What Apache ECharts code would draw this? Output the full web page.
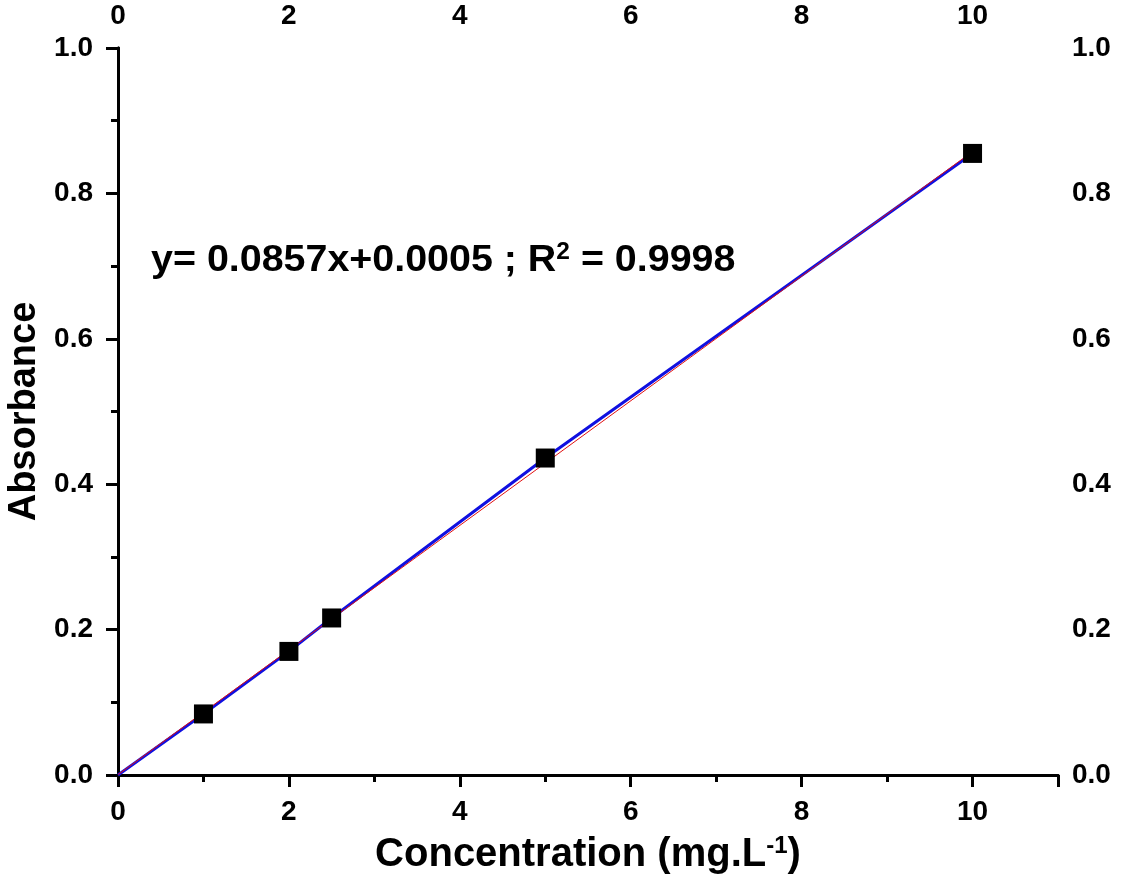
<!DOCTYPE html>
<html>
<head>
<meta charset="utf-8">
<script src="https://cdn.jsdelivr.net/npm/echarts@6/dist/echarts.min.js"></script>
<style>
  html, body { margin: 0; padding: 0; background: #fff; }
  #chart-container { width: 1123px; height: 881px; }
</style>
</head>
<body>
<div id="chart-container"></div>
<script>
  // measured standards
  var concentration = [0, 1, 2, 2.5, 5, 10];
  var absorbance = [0, 0.084, 0.170, 0.216, 0.436, 0.855];

  // linear fit y = 0.0857x + 0.0005, drawn between its end points
  var fitX = [0, 10];
  var fitY = [0.0005, 0.8575];

  var equationText = 'y= 0.0857x+0.0005 ; R';
  var r2Text = ' = 0.9998';

  var font = 'Liberation Sans';

  var dom = document.getElementById('chart-container');
  var myChart = echarts.init(dom, null, { renderer: 'canvas' });

  var axisLine = { show: true, lineStyle: { color: '#000', width: 3 } };
  var tickFont = { fontSize: 28, fontWeight: 'bold', fontFamily: font, color: '#000' };

  var option = {
    backgroundColor: '#fff',
    animation: false,
    grid: { left: 118, right: 65, top: 48, bottom: 106, containLabel: false, outerBoundsMode: 'none' },
    xAxis: [
      {
        type: 'value', position: 'bottom', min: 0, max: 11, interval: 2,
        axisLine: axisLine,
        axisTick: { show: true, inside: false, length: 12, lineStyle: { width: 3, color: '#000' } },
        minorTick: { show: true, splitNumber: 2, length: 7, lineStyle: { width: 3, color: '#000' } },
        splitLine: { show: false },
        axisLabel: Object.assign({ margin: 23,
          formatter: function (v) { return v <= 10 ? String(v) : ''; } }, tickFont),
        name: '{t|Concentration (mg.L}{s|-1}{t|)}',
        nameLocation: 'middle',
        nameGap: 59,
        nameTextStyle: {
          rich: {
            t: { fontSize: 40, fontWeight: 'bold', fontFamily: font, color: '#000' },
            s: { fontSize: 24, fontWeight: 'bold', fontFamily: font, color: '#000', verticalAlign: 'top', padding: [0, 0, 17, 0] }
          }
        }
      },
      {
        type: 'value', position: 'top', min: 0, max: 11, interval: 2,
        axisLine: axisLine,
        axisTick: { show: true, inside: true, length: 12, lineStyle: { width: 3, color: '#000' } },
        minorTick: { show: true, splitNumber: 2, length: 7, lineStyle: { width: 3, color: '#000' } },
        splitLine: { show: false },
        axisLabel: Object.assign({ margin: 18,
          formatter: function (v) { return v <= 10 ? String(v) : ''; } }, tickFont)
      }
    ],
    yAxis: [
      {
        type: 'value', position: 'left', min: 0, max: 1, interval: 0.2,
        axisLine: axisLine,
        axisTick: { show: true, inside: false, length: 12, lineStyle: { width: 3, color: '#000' } },
        minorTick: { show: true, splitNumber: 2, length: 7, lineStyle: { width: 3, color: '#000' } },
        splitLine: { show: false },
        axisLabel: Object.assign({ margin: 25,
          formatter: function (v) { return v.toFixed(1); } }, tickFont),
        name: 'Absorbance',
        nameLocation: 'middle',
        nameGap: 73,
        nameTextStyle: { fontSize: 38, fontWeight: 'bold', fontFamily: font, color: '#000' }
      },
      {
        type: 'value', position: 'right', min: 0, max: 1, interval: 0.2,
        axisLine: axisLine,
        axisTick: { show: true, inside: true, length: 12, lineStyle: { width: 3, color: '#000' } },
        minorTick: { show: true, splitNumber: 2, length: 7, lineStyle: { width: 3, color: '#000' } },
        splitLine: { show: false },
        axisLabel: Object.assign({ margin: 14,
          formatter: function (v) { return v.toFixed(1); } }, tickFont)
      }
    ],
    series: [
      {
        name: 'Data line',
        type: 'line',
        xAxisIndex: 0, yAxisIndex: 0,
        data: concentration.map(function (c, i) { return [c, absorbance[i]]; }),
        showSymbol: false,
        lineStyle: { color: '#1010e0', width: 3 },
        z: 2
      },
      {
        name: 'Linear fit',
        type: 'line',
        xAxisIndex: 0, yAxisIndex: 0,
        data: fitX.map(function (x, i) { return [x, fitY[i]]; }),
        showSymbol: false,
        lineStyle: { color: '#e01010', width: 1 },
        z: 3
      },
      {
        name: 'Standards',
        type: 'scatter',
        xAxisIndex: 0, yAxisIndex: 0,
        data: concentration.map(function (c, i) { return [c, absorbance[i]]; }),
        symbol: 'rect',
        // the blank sits on the axis corner, where its marker is clipped away
        symbolSize: function (val) { return (val[0] === 0 && val[1] === 0) ? 0 : 19; },
        itemStyle: { color: '#000', opacity: 1 },
        clip: true,
        z: 4
      }
    ],
    graphic: [
      {
        type: 'text',
        left: 151,
        top: 241,
        scaleX: 1.065,
        style: {
          text: '{a|' + equationText + '}{s|2}{a|' + r2Text + '}',
          rich: {
            a: { fontSize: 37, fontWeight: 'bold', fontFamily: font, fill: '#000' },
            s: { fontSize: 23, fontWeight: 'bold', fontFamily: font, fill: '#000', verticalAlign: 'top', padding: [0, 0, 16, 0] }
          }
        }
      }
    ]
  };

  myChart.setOption(option);
</script>
</body>
</html>
